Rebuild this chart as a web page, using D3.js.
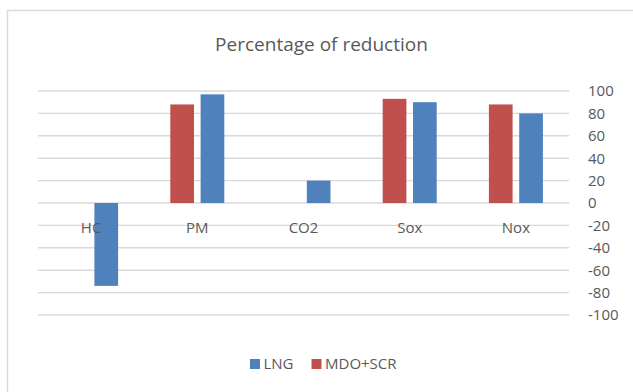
<!DOCTYPE html>
<html>
<head>
<meta charset="utf-8">
<script src="https://cdn.jsdelivr.net/npm/d3@7"></script>
<style>
  html, body { margin: 0; padding: 0; background: #fff; }
  svg { display: block; font-family: "Open Sans", "Noto Sans", sans-serif; }
</style>
</head>
<body>
<svg id="chart" width="633" height="392"></svg>
<script>
// Emission reduction by pollutant (%)
const categories = ["HC", "PM", "CO2", "Sox", "Nox"];
const seriesNames = ["MDO+SCR", "LNG"];
const mdoScr = [null, 88, null, 93, 88];
const lng = [-74, 97, 20, 90, 80];
const yTicks = [100, 80, 60, 40, 20, 0, -20, -40, -60, -80, -100];
const legendOrder = ["LNG", "MDO+SCR"];
const colors = { "LNG": "#4f81bd", "MDO+SCR": "#c0504d" };

const rows = categories.map((c, i) => ({
  cat: c,
  values: [
    { name: "MDO+SCR", v: mdoScr[i] },
    { name: "LNG", v: lng[i] }
  ]
}));

const svg = d3.select("#chart");
const textColor = "#595959";
const gridColor = "#d9d9d9";

// chart area frame
svg.append("rect")
  .attr("x", 7.5).attr("y", 10.5)
  .attr("width", 660).attr("height", 420)
  .attr("fill", "#fff")
  .attr("stroke", gridColor).attr("stroke-width", 1.5);

const plot = { left: 38, right: 569, top: 91, bottom: 315 };

const x = d3.scaleBand().domain(categories).range([plot.left, plot.right]).paddingInner(0).paddingOuter(0);
const x1 = d3.scaleBand().domain(seriesNames).range([0, x.bandwidth()])
  .paddingInner(0.218).paddingOuter(0.861);
const y = d3.scaleLinear().domain([-100, 100]).range([plot.bottom, plot.top]);

// title
svg.append("text")
  .attr("x", 321.5).attr("y", 51)
  .attr("text-anchor", "middle")
  .attr("font-size", 19)
  .attr("fill", textColor)
  .text("Percentage of reduction");

// horizontal gridlines
svg.append("g").selectAll("line").data(yTicks).join("line")
  .attr("x1", plot.left).attr("x2", plot.right)
  .attr("y1", d => y(d)).attr("y2", d => y(d))
  .attr("stroke", gridColor).attr("stroke-width", 1.4);

// bars
const groups = svg.append("g").selectAll("g").data(rows).join("g")
  .attr("transform", d => `translate(${x(d.cat)},0)`);
groups.selectAll("rect")
  .data(d => d.values.filter(v => v.v !== null))
  .join("rect")
  .attr("x", d => x1(d.name))
  .attr("width", x1.bandwidth())
  .attr("y", d => y(Math.max(0, d.v)))
  .attr("height", d => Math.abs(y(d.v) - y(0)))
  .attr("fill", d => colors[d.name]);

// category axis along the zero line, labels drawn over the bars
const xAxis = svg.append("g")
  .attr("transform", `translate(0,${y(0)})`)
  .call(d3.axisBottom(x).tickSize(0).tickPadding(19));
xAxis.select(".domain").remove();
xAxis.selectAll("text")
  .attr("font-size", 15)
  .attr("font-family", "'Open Sans', sans-serif")
  .attr("fill", textColor);

// value axis on the right
const yAxis = svg.append("g")
  .attr("transform", `translate(588,0)`)
  .call(d3.axisRight(y).tickValues(yTicks).tickFormat(d => String(d)).tickSize(0).tickPadding(0));
yAxis.select(".domain").remove();
yAxis.selectAll("text")
  .attr("font-size", 15)
  .attr("font-family", "'Open Sans', sans-serif")
  .attr("fill", textColor)
  .attr("text-anchor", "start");

// legend
const legendX = { "LNG": 250, "MDO+SCR": 311.5 };
const legend = svg.append("g").selectAll("g").data(legendOrder).join("g")
  .attr("transform", d => `translate(${legendX[d]},359)`);
legend.append("rect")
  .attr("width", 10).attr("height", 10)
  .attr("fill", d => colors[d]);
legend.append("text")
  .attr("x", 13.5).attr("y", 5)
  .attr("dy", "0.36em")
  .attr("font-size", 15)
  .attr("fill", textColor)
  .text(d => d);
</script>
</body>
</html>
